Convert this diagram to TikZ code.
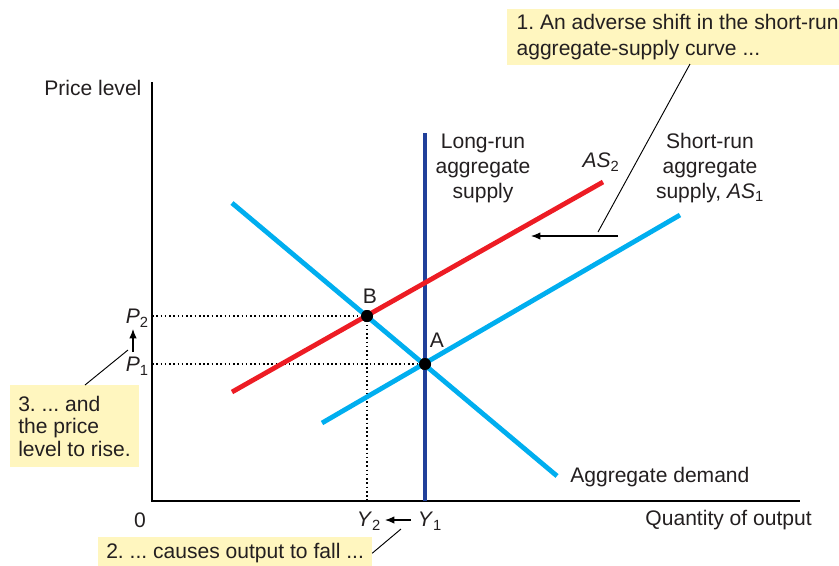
\documentclass[tikz,border=0pt]{standalone}
\usepackage{fontspec}
\setmainfont{Liberation Sans}
\usetikzlibrary{arrows.meta}
\definecolor{lblue}{HTML}{00AEEF}
\definecolor{dblue}{HTML}{21409A}
\definecolor{cred}{HTML}{ED1C24}
\definecolor{note}{HTML}{FFF6BF}
\definecolor{txt}{HTML}{231F20}
\frenchspacing
\begin{document}
\begin{tikzpicture}[x=0.75pt,y=-0.75pt,
  font=\fontsize{15.8}{18.75}\selectfont, text=txt,
  lbcurve/.style={line width=3.6pt, lblue},
  redcurve/.style={line width=3.6pt, cred},
  lrcurve/.style={line width=3.6pt, dblue},
  axis/.style={line width=0.8pt, black},
  guide/.style={line width=1.2pt, dotted, black},
  pointer/.style={line width=0.7pt, black},
  arrowline/.style={line width=0.8pt, black, -{Latex[length=7pt,width=5.5pt]}},
  dot/.style={circle, fill=black, inner sep=0pt, minimum size=9pt},
  lbl/.style={inner sep=0pt},
  notebox/.style={fill=note, align=left, inner ysep=0pt}
]
\useasboundingbox (0,0) rectangle (839,565);

% axes
\coordinate (origin) at (152,501);
\coordinate (ytop) at (152,82);
\coordinate (xend) at (800,501);
\draw[axis] (ytop) -- (origin) -- (xend);

% dotted guides
\node[dot] (B) at (367,316) {};
\node[dot] (A) at (425,364) {};
\coordinate (p2axis) at (152,316);
\coordinate (p1axis) at (152,364);
\coordinate (y2axis) at (367,501);
\draw[guide] (p2axis) -- (B.center);
\draw[guide] (p1axis) -- (A.center);
\draw[guide] (B.center) -- (y2axis);

% curves
\coordinate (lr1) at (425,133);
\coordinate (lr2) at (425,501);
\draw[lrcurve] (lr1) -- (lr2);
\coordinate (ad1) at (232,203);
\coordinate (ad2) at (557,476);
\draw[lbcurve] (ad1) -- (ad2);
\coordinate (as1a) at (322,423);
\coordinate (as1b) at (680,215);
\draw[lbcurve] (as1a) -- (as1b);
\coordinate (as2a) at (232,392);
\coordinate (as2b) at (603,182);
\draw[redcurve] (as2a) -- (as2b);

% redraw dots on top
\node[dot] at (B.center) {};
\node[dot] at (A.center) {};

% labels
\node[lbl, anchor=west] (pl) at (44,88) {Price level};
\node[lbl, align=center] (lrlab) at (483,168) {Long-run\\aggregate\\supply};
\node[lbl] (as2lab) at (601,162) {\textit{AS}\textsubscript{2}};
\node[lbl, align=center] (srlab) at (710,168) {Short-run\\aggregate\\supply, \textit{AS}\textsubscript{1}};
\node[lbl, anchor=west] (adlab) at (570,477) {Aggregate demand};
\node[lbl, anchor=east] (qlab) at (812,520) {Quantity of output};
\node[lbl] (zero) at (140,520) {0};
\node[lbl] (y2) at (369,521) {\textit{Y}\textsubscript{2}};
\node[lbl] (y1) at (430,521) {\textit{Y}\textsubscript{1}};
\node[lbl, anchor=east] (p2) at (149,318) {\textit{P}\textsubscript{2}};
\node[lbl, anchor=east] (p1) at (149,366) {\textit{P}\textsubscript{1}};
\node[lbl] (Blab) at (370,296) {B};
\node[lbl] (Alab) at (437,340) {A};

% note boxes
\node[notebox, anchor=north west, inner xsep=7pt, minimum height=41.5pt,
  font=\fontsize{15.8}{19.5}\selectfont] (n1) at (507,9)
  {1. An adverse shift in the short-run\\aggregate-supply curve ...};
\node[notebox, anchor=north west, inner xsep=6pt, minimum width=95pt, minimum height=61.5pt,
  font=\fontsize{15.8}{17}\selectfont] (n3) at (10,385)
  {3. ... and\\the price\\level to rise.};
\node[notebox, anchor=north west, inner xsep=6pt, minimum height=24pt] (n2) at (98,537)
  {2. ... causes output to fall ...};

% pointers and arrows
\coordinate (n1tip) at (598,232);
\coordinate (n1base) at (690,64);
\draw[pointer] (n1base) -- (n1tip);
\coordinate (shiftA) at (618,236);
\coordinate (shiftB) at (531,236);
\draw[arrowline] (shiftA) -- (shiftB);

\coordinate (parr1) at (133,352);
\coordinate (parr2) at (133,329);
\draw[arrowline] (parr1) -- (parr2);
\coordinate (n3tip) at (128,350);
\coordinate (n3base) at (85,385);
\draw[pointer] (n3base) -- (n3tip);

\coordinate (yarr1) at (411,520);
\coordinate (yarr2) at (385,520);
\draw[arrowline] (yarr1) -- (yarr2);
\coordinate (n2tip) at (401,529);
\coordinate (n2base) at (n2.east);
\draw[pointer] (n2base) -- (n2tip);
\end{tikzpicture}
\end{document}
